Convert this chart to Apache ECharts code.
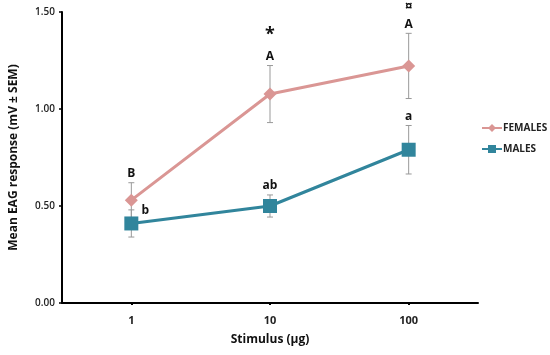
<!DOCTYPE html>
<html><head><meta charset="utf-8">
<script src="https://cdn.jsdelivr.net/npm/echarts@6/dist/echarts.min.js"></script>
<style>html,body{margin:0;padding:0;background:#fff}#c{width:550px;height:355px}</style>
</head><body><div id="c"></div>
<script>
const categories = ['1', '10', '100'];
const femaleMean = [0.53, 1.077, 1.222];
const femaleSem = [0.09, 0.147, 0.168];
const maleMean = [0.41, 0.50, 0.79];
const maleSem = [0.07, 0.057, 0.125];
const femaleLetters = ['B', 'A', 'A'];
const maleLetters = ['b', 'ab', 'a'];
const sexMarks = ['', '*', '¤'];
const yTicks = [0, 0.5, 1.0, 1.5];

const FCOL = '#DA9694', MCOL = '#31859C';
const FONT = '"Open Sans", "Liberation Sans", sans-serif';

function errSeries(mean, sem, name) {
  return {
    type: 'custom', name: name + '_err', silent: true, z: 1,
    data: mean.map((m, i) => [i, m - sem[i], m + sem[i]]),
    renderItem: function (params, api) {
      const lo = api.coord([api.value(0), api.value(1)]);
      const hi = api.coord([api.value(0), api.value(2)]);
      const w = 3;
      const st = { stroke: '#999', lineWidth: 1 };
      return { type: 'group', children: [
        { type: 'line', shape: { x1: lo[0], y1: lo[1], x2: hi[0], y2: hi[1] }, style: st },
        { type: 'line', shape: { x1: lo[0] - w, y1: lo[1], x2: lo[0] + w, y2: lo[1] }, style: st },
        { type: 'line', shape: { x1: hi[0] - w, y1: hi[1], x2: hi[0] + w, y2: hi[1] }, style: st }
      ]};
    }
  };
}

function letterSeries(mean, sem, letters, isMale) {
  return {
    type: 'custom', silent: true, z: 5,
    data: mean.map((m, i) => [i, m + sem[i], letters[i]]),
    renderItem: function (params, api) {
      const i = params.dataIndex;
      const p = api.coord([api.value(0), api.value(1)]);
      let x = p[0], y = p[1] - 9;
      if (isMale && i === 0) { x = p[0] + 14; y = p[1] + 1; }
      return { type: 'text', style: { text: letters[i], x: x, y: y, align: 'center', verticalAlign: 'middle',
        fill: '#111', font: 'bold 12px ' + FONT } };
    }
  };
}

const sigSeries = {
  type: 'custom', silent: true, z: 5,
  data: femaleMean.map((m, i) => [i, m + femaleSem[i]]),
  renderItem: function (params, api) {
    const i = params.dataIndex;
    const p = api.coord([api.value(0), api.value(1)]);
    const big = sexMarks[i] === '*';
    return { type: 'text', style: { text: sexMarks[i], x: p[0], y: p[1] - (big ? 31 : 26), align: 'center', verticalAlign: 'middle',
      fill: '#111', font: 'bold ' + (big ? 18 : 14) + 'px ' + FONT } };
  }
};

const chart = echarts.init(document.getElementById('c'), null, { renderer: 'canvas' });
chart.setOption({
  animation: false,
  backgroundColor: '#fff',
  grid: { left: 59, right: 72, top: 12, bottom: 52, containLabel: false },
  legend: {
    orient: 'vertical', left: 481, top: 123, itemGap: 11, itemWidth: 20, itemHeight: 10, padding: 0,
    data: ['FEMALES', 'MALES'],
    textStyle: { fontFamily: FONT, fontWeight: 'bold', fontSize: 10, color: '#222', padding: [0, 0, 0, -4] }
  },
  xAxis: {
    type: 'category', data: categories, boundaryGap: true,
    name: 'Stimulus (µg)', nameLocation: 'middle', nameGap: 31,
    nameTextStyle: { fontFamily: FONT, fontWeight: 'bold', fontSize: 12, color: '#111' },
    axisLine: { lineStyle: { color: '#000', width: 2 } },
    axisTick: { show: true, alignWithLabel: true, length: 2, lineStyle: { color: '#000', width: 2 } },
    axisLabel: { margin: 12, fontFamily: FONT, fontWeight: 'bold', fontSize: 11, color: '#222' },
    splitLine: { show: false }
  },
  yAxis: {
    type: 'value', min: yTicks[0], max: yTicks[yTicks.length - 1], interval: 0.5,
    name: 'Mean EAG response (mV ± SEM)', nameLocation: 'middle', nameGap: 42,
    nameTextStyle: { fontFamily: FONT, fontWeight: 'bold', fontSize: 12, color: '#111' },
    axisLine: { show: true, lineStyle: { color: '#000', width: 2 } },
    axisTick: { show: true, length: 3, lineStyle: { color: '#000', width: 1.5 } },
    axisLabel: { margin: 7, fontFamily: FONT, fontWeight: 600, fontSize: 10, color: '#222', formatter: v => v.toFixed(2) },
    splitLine: { show: false }
  },
  series: [
    errSeries(femaleMean, femaleSem, 'FEMALES'),
    errSeries(maleMean, maleSem, 'MALES'),
    { name: 'FEMALES', type: 'line', data: femaleMean, z: 3, symbol: 'diamond', symbolSize: 13,
      lineStyle: { color: FCOL, width: 3 }, itemStyle: { color: FCOL } },
    { name: 'MALES', type: 'line', data: maleMean, z: 3, symbol: 'rect', symbolSize: 14,
      lineStyle: { color: MCOL, width: 3 }, itemStyle: { color: MCOL } },
    letterSeries(femaleMean, femaleSem, femaleLetters, false),
    letterSeries(maleMean, maleSem, maleLetters, true),
    sigSeries
  ]
});
</script></body></html>
